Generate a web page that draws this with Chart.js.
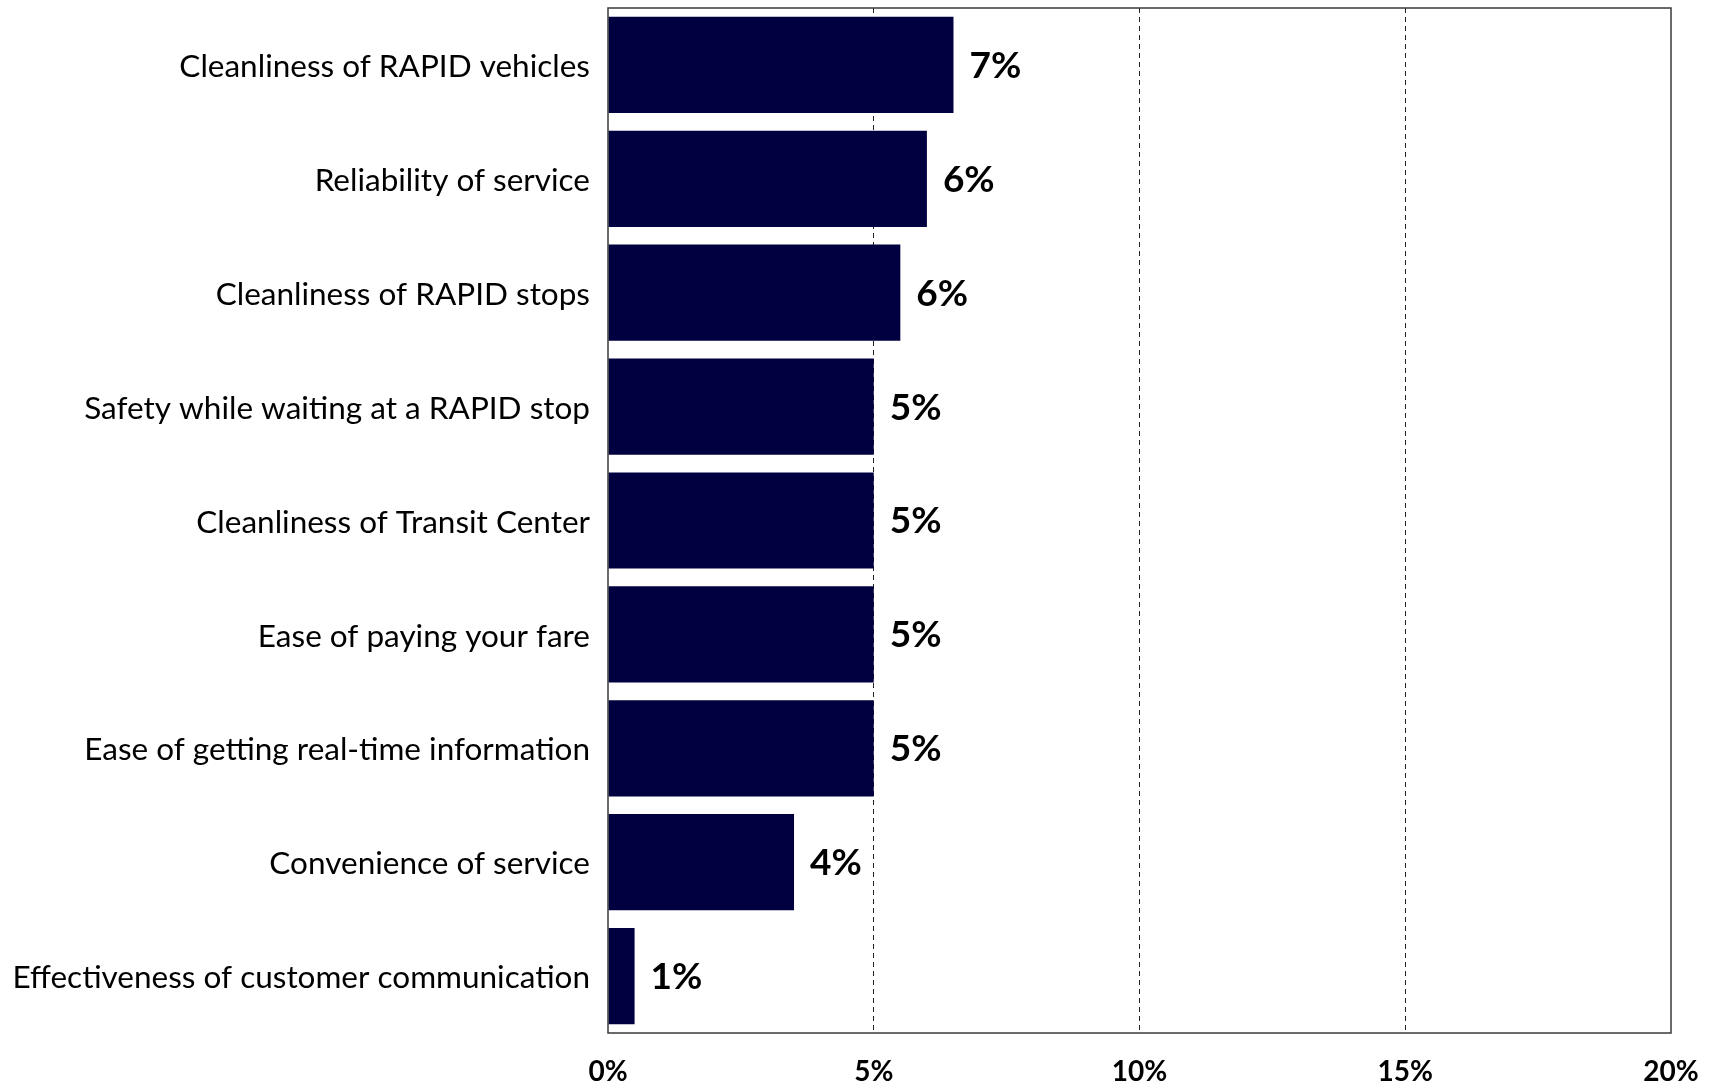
<!DOCTYPE html>
<html>
<head>
<meta charset="utf-8">
<script src="https://cdn.jsdelivr.net/npm/chart.js@4.4.0/dist/chart.umd.min.js"></script>
<style>
  html, body { margin: 0; padding: 0; background: #fff; }
  #wrap { width: 1713px; height: 1085px; }
</style>
</head>
<body>
<div id="wrap"><canvas id="myChart" width="1713" height="1085"></canvas></div>
<script>
var categories = [
    "Cleanliness of RAPID vehicles",
    "Reliability of service",
    "Cleanliness of RAPID stops",
    "Safety while waiting at a RAPID stop",
    "Cleanliness of Transit Center",
    "Ease of paying your fare",
    "Ease of getting real-time information",
    "Convenience of service",
    "Effectiveness of customer communication"
];
var values = [6.5, 6.0, 5.5, 5.0, 5.0, 5.0, 5.0, 3.5, 0.5];
var xTicks = [0, 5, 10, 15, 20];

// value labels at the end of each bar
var barLabels = {
    id: 'barLabels',
    afterDatasetsDraw: function(chart) {
        var ctx = chart.ctx;
        var meta = chart.getDatasetMeta(0);
        ctx.save();
        ctx.font = 'bold 37px Lato';
        ctx.fillStyle = '#000';
        ctx.textAlign = 'left';
        ctx.textBaseline = 'middle';
        meta.data.forEach(function(bar, i) {
            ctx.fillText(Math.round(values[i]) + '%', bar.x + 16, bar.y + 1);
        });
        ctx.restore();
    }
};

// box around the plot area
var plotBox = {
    id: 'plotBox',
    afterDatasetsDraw: function(chart) {
        var a = chart.chartArea;
        var ctx = chart.ctx;
        ctx.save();
        ctx.strokeStyle = '#3a3a3a';
        ctx.lineWidth = 1.5;
        ctx.strokeRect(a.left, a.top, a.right - a.left, a.bottom - a.top);
        ctx.restore();
    }
};

var ctx = document.getElementById('myChart');

var myBarChart = new Chart(ctx, {
    type: 'bar',
    data: {
        labels: categories,
        datasets: [{
            data: values,
            backgroundColor: '#000040',
            borderWidth: 0,
            categoryPercentage: 1,
            barPercentage: 0.845
        }]
    },
    options: {
        indexAxis: 'y',
        responsive: false,
        animation: false,
        layout: { padding: { top: 8, right: 42, left: 0, bottom: 0 } },
        plugins: {
            legend: { display: false },
            tooltip: { enabled: false }
        },
        scales: {
            x: {
                min: 0,
                max: 20,
                afterBuildTicks: function(scale) {
                    scale.ticks = xTicks.map(function(v) { return { value: v }; });
                },
                afterFit: function(scale) {
                    scale.height = 52;
                    scale.paddingLeft = 0;
                    scale.paddingRight = 0;
                },
                grid: {
                    drawTicks: false,
                    lineWidth: 1,
                    color: function(c) {
                        return (c.tick && (c.tick.value === 0 || c.tick.value === 20)) ? 'rgba(0,0,0,0)' : '#222';
                    }
                },
                border: { display: false, dash: [5, 4] },
                ticks: {
                    padding: 22,
                    color: '#000',
                    font: { family: 'Lato', size: 28, weight: 'bold' },
                    callback: function(v) { return v + '%'; }
                }
            },
            y: {
                afterFit: function(scale) {
                    scale.width = 608;
                    scale.paddingTop = 0;
                    scale.paddingBottom = 0;
                },
                grid: { display: false, drawTicks: false },
                border: { display: false },
                ticks: {
                    padding: 18,
                    labelOffset: 2,
                    color: '#000',
                    font: { family: 'Lato', size: 31.5 }
                }
            }
        }
    },
    plugins: [barLabels, plotBox]
});
</script>
</body>
</html>
